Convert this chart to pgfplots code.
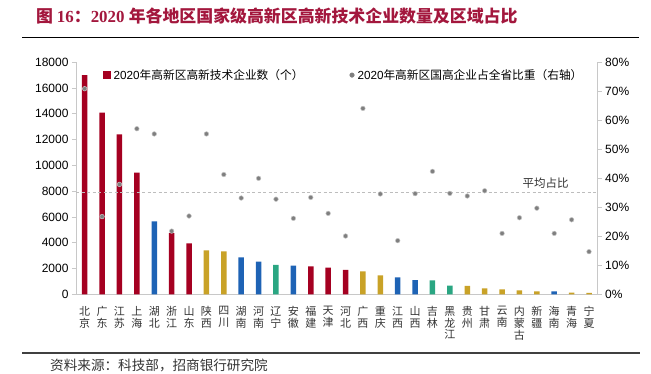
\documentclass[border=0pt]{standalone}
\usepackage{pgfplots}
\pgfplotsset{compat=1.18}
\usepackage{fontspec}
\setmainfont{Liberation Sans}
\newfontfamily\cjk{Noto Sans CJK SC}
\newfontfamily\serifb{Liberation Serif}
\definecolor{cred}{HTML}{A50021}
\definecolor{cblue}{HTML}{1E63B5}
\definecolor{cgold}{HTML}{C9A227}
\definecolor{cgreen}{HTML}{2AA682}
\definecolor{dotgray}{HTML}{7F7F7F}
\definecolor{axisgray}{HTML}{C8C8C8}
\definecolor{titlered}{HTML}{A3173D}
\definecolor{dashgray}{HTML}{BDBDBD}
\definecolor{txtgray}{HTML}{333333}
\begin{document}
\begin{tikzpicture}[x=1pt,y=1pt]
\useasboundingbox (0,0) rectangle (651,-373);
\node[anchor=west, text=titlered, inner sep=0pt] at (36,-16) {\fontsize{16.9}{17}\selectfont\bfseries{\cjk 图 }{\serifb 16}{\cjk ：}{\serifb 2020 }{\cjk 年各地区国家级高新区高新技术企业数量及区域占比}};
\draw[black, line width=1.5pt] (22,-37.3) -- (639,-37.3);
\draw[black!75, line width=2pt] (22,-352.7) -- (640,-352.7);
\node[anchor=west, inner sep=0pt, text=txtgray] at (50,-365.8) {\cjk\fontsize{13.6}{14}\selectfont 资料来源：科技部，招商银行研究院};

\begin{axis}[
  at={(76pt,-294.3pt)}, anchor=south west,
  scale only axis, width=521.7pt, height=232pt,
  xmin=-0.5, xmax=29.5, ymin=0, ymax=18000,
  axis x line*=bottom, axis y line*=left,
  axis line style={-, draw=axisgray, line width=0.8pt},
  x axis line style={-}, y axis line style={-},
  ytick={0,2000,...,18000},
  xtick={0,...,29},
  xticklabels={{北\\京},{广\\东},{江\\苏},{上\\海},{湖\\北},{浙\\江},{山\\东},{陕\\西},{四\\川},{湖\\南},{河\\南},{辽\\宁},{安\\徽},{福\\建},{天\\津},{河\\北},{广\\西},{重\\庆},{江\\西},{山\\西},{吉\\林},{黑\\龙\\江},{贵\\州},{甘\\肃},{云\\南},{内\\蒙\\古},{新\\疆},{海\\南},{青\\海},{宁\\夏}},
  xticklabel style={font=\cjk\fontsize{11}{11.7}\selectfont, align=center, anchor=north, inner sep=0pt, yshift=-8pt, text=txtgray},
  x tick style={draw=none},
  y tick style={draw=axisgray, line width=0.8pt},
  tick align=outside, major tick length=4pt,
  yticklabel style={font=\fontsize{12}{12}\selectfont},
  /pgf/number format/assume math mode=true,
  scaled y ticks=false,
  /pgf/number format/1000 sep={},
  clip=false,
]
\addplot[ybar, bar width=5.5pt, bar shift=0pt, fill=cred, draw=none] coordinates {(0,17000)(1,14100)(2,12400)(3,9450)(5,4750)(6,3950)(13,2170)(14,2070)(15,1890)};
\addplot[ybar, bar width=5.5pt, bar shift=0pt, fill=cblue, draw=none] coordinates {(4,5650)(9,2870)(10,2530)(12,2220)(18,1320)(19,1110)(27,235)};
\addplot[ybar, bar width=5.5pt, bar shift=0pt, fill=cgold, draw=none] coordinates {(7,3400)(8,3330)(16,1780)(17,1470)(22,650)(23,465)(24,390)(25,310)(26,235)(28,130)(29,105)};
\addplot[ybar, bar width=5.5pt, bar shift=0pt, fill=cgreen, draw=none] coordinates {(11,2280)(20,1090)(21,670)};
\end{axis}

\begin{axis}[
  at={(76pt,-294.3pt)}, anchor=south west,
  scale only axis, width=521.7pt, height=232pt,
  xmin=-0.5, xmax=29.5, ymin=0, ymax=80,
  axis x line=none, axis y line*=right,
  axis line style={-, draw=axisgray, line width=0.8pt},
  y axis line style={-},
  ytick={0,10,...,80},
  yticklabel={\pgfmathprintnumber{\tick}\%},
  y tick style={draw=axisgray, line width=0.8pt},
  tick align=outside, major tick length=4pt,
  yticklabel style={font=\fontsize{12}{12}\selectfont},
  /pgf/number format/assume math mode=true,
  clip=false,
  legend columns=2,
  legend style={at={(0.0523,0.945)}, anchor=west, draw=none, fill=none, inner sep=0pt, outer sep=0pt,
    font=\fontsize{11.7}{12}\selectfont, text=black,
    /tikz/every odd column/.append style={column sep=1pt},
    /tikz/every even column/.append style={column sep=44pt}},
]
\addplot[draw=dashgray, dash pattern=on 3pt off 2.5pt, line width=0.8pt, forget plot] coordinates {(-0.5,35.2)(29.5,35.2)};
\addlegendimage{legend image code/.code={\fill[cred] (0pt,-3.5pt) rectangle (7pt,3.5pt);}}
\addlegendentry{2020{\cjk 年高新区高新技术企业数（个）}}
\addplot[only marks, mark=*, mark size=2.3pt, mark options={fill=dotgray, draw=dotgray!45, line width=0.5pt},
  legend image code/.code={\fill[dotgray] (2.3pt,0pt) circle (2.3pt);}] coordinates {
(0,70.9)(1,26.8)(2,37.9)(3,57.1)(4,55.3)(5,21.8)(6,27.0)(7,55.3)(8,41.3)(9,33.2)
(10,40.0)(11,32.8)(12,26.2)(13,33.4)(14,27.9)(15,20.1)(16,64.1)(17,34.6)(18,18.5)(19,34.7)
(20,42.4)(21,34.8)(22,33.9)(23,35.7)(24,21.0)(25,26.4)(26,29.7)(27,21.0)(28,25.7)(29,14.7)};
\addlegendentry{2020{\cjk 年高新区国高企业占全省比重（右轴）}}
\node[font=\cjk\fontsize{11.5}{12}\selectfont, text=txtgray] at (axis cs:26.5,38.4) {平均占比};
\end{axis}
\end{tikzpicture}
\end{document}
